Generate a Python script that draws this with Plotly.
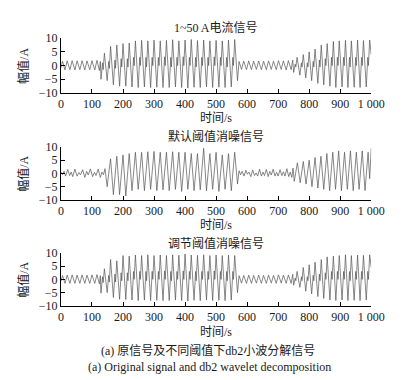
import plotly.graph_objects as go

# ---------------- data ----------------
x_tickvals = [0, 100, 200, 300, 400, 500, 600, 700, 800, 900, 1000]
x_ticktext = ["0", "100", "200", "300", "400", "500", "600", "700", "800", "900", "1 000"]
y_tickvals = [-10, -5, 0, 5, 10]

titles = ["1~50 A电流信号", "默认阈值消噪信号", "调节阈值消噪信号"]
x_title = "时间/s"
y_title = "幅值/A"
caption_cn = "(a) 原信号及不同阈值下db2小波分解信号"
caption_en = "(a) Original signal and db2 wavelet decomposition"

# original signal (time s, amplitude A)
orig_pts = [
    (0, -0.8), (5, 1.6), (13, -1.6), (20, 1.7), (29, -1.5), (36, 1.8), (45, -1.6), (52, 1.7),
    (61, -1.5), (68, 1.8), (77, -1.6), (84, 1.7), (93, -1.5), (100, 1.8), (109, -1.6), (116, 1.9),
    (124, -1.8), (127, 1.5),
    (129, -5.0), (134, 1.0), (136, -1.5), (140, 4.5),
    (149, -5.5), (154, 1.5), (156, -1.0), (160, 7.0),
    (169, -7.0), (174, 2.0), (176, -1.0), (180, 7.5),
    (189, -7.5), (194, 2.5), (196, -0.5), (200, 8.0),
    (209, -7.5), (214, 2.5), (216, -0.5), (220, 8.2),
    (229, -7.8), (234, 3.0), (236, 0.0), (240, 9.0),
    (249, -8.0), (254, 3.0), (256, 0.0), (260, 9.2),
    (269, -7.8), (274, 3.0), (276, -0.5), (280, 9.0),
    (289, -8.0), (294, 3.0), (296, 0.0), (300, 9.3),
    (309, -7.9), (314, 3.0), (316, 0.0), (320, 9.0),
    (329, -8.0), (334, 3.2), (336, 0.0), (340, 9.2),
    (349, -8.0), (354, 3.0), (356, -0.5), (360, 9.4),
    (369, -7.8), (374, 3.0), (376, 0.0), (380, 9.0),
    (389, -8.0), (394, 3.2), (396, 0.0), (400, 9.3),
    (409, -8.2), (414, 3.0), (416, 0.0), (420, 9.5),
    (429, -7.9), (434, 3.0), (436, -0.5), (440, 9.1),
    (449, -8.0), (454, 3.0), (456, 0.0), (460, 9.3),
    (469, -7.8), (474, 3.0), (476, 0.0), (480, 9.0),
    (489, -8.0), (494, 3.2), (496, 0.0), (500, 9.2),
    (509, -7.9), (514, 3.0), (516, 0.0), (520, 9.0),
    (529, -8.0), (534, 3.0), (536, -0.5), (540, 9.3),
    (549, -7.8), (554, 3.0), (556, 0.0), (560, 9.5),
    (569, -5.5),
    (574, 1.5), (582, -1.4), (589, 1.6), (598, -1.5), (605, 1.7), (614, -1.5), (621, 1.6),
    (630, -1.4), (637, 1.7), (646, -1.5), (653, 1.6), (662, -1.5), (669, 1.7), (678, -1.4),
    (685, 1.6), (694, -1.5), (701, 1.8), (710, -1.4), (717, 1.7), (726, -1.6), (733, 1.8),
    (742, -1.5), (747, 2.0),
    (750, -2.5), (755, 0.5), (757, -0.5), (761, 3.0),
    (770, -3.5), (775, 1.0), (777, -0.5), (781, 4.0),
    (789, -4.5), (794, 1.0), (796, -0.5), (800, 5.0),
    (808, -5.5), (813, 1.5), (815, -0.5), (819, 6.0),
    (828, -6.5), (833, 2.0), (835, -0.5), (839, 7.5),
    (847, -7.0), (852, 2.5), (854, 0.0), (858, 8.0),
    (867, -7.5), (872, 3.0), (874, 0.0), (878, 8.8),
    (886, -8.0), (891, 3.0), (893, 0.0), (897, 9.0),
    (906, -7.8), (911, 3.0), (913, 0.0), (917, 9.2),
    (925, -8.0), (930, 3.0), (932, -0.5), (936, 9.0),
    (945, -7.9), (950, 3.0), (952, 0.0), (956, 9.3),
    (964, -8.0), (969, 3.0), (971, 0.0), (975, 9.1),
    (984, -7.8), (989, 3.0), (991, 0.0), (995, 9.3),
    (1000, 4.0),
]

# default-threshold denoised signal
default_pts = [
    (0, 0.5), (5, -0.5), (10, 0.8), (15, -1.0), (22, 1.5), (28, -0.8), (33, 0.5), (38, -1.2),
    (45, 1.6), (52, -1.0), (58, 0.3), (63, -0.5), (70, 1.4), (77, -1.5), (83, 0.8), (88, -0.6),
    (95, 1.7), (102, -1.2), (108, 0.4), (113, -0.8), (120, 1.6), (127, -1.5), (132, 0.5),
    (137, -0.5), (142, 1.8), (146, -2.0),
    (149, -5.0), (155, 1.0), (160, 5.5),
    (169, -8.0), (175, 1.5), (180, 6.5),
    (189, -8.0), (195, 2.0), (200, 7.0),
    (209, -8.5), (215, 2.0), (220, 7.5),
    (229, -6.5), (235, 2.5), (240, 8.0),
    (249, -6.0), (255, 2.5), (260, 8.0),
    (269, -6.5), (275, 2.5), (280, 8.2),
    (289, -6.0), (295, 2.5), (300, 8.3),
    (309, -6.5), (315, 2.5), (320, 8.0),
    (329, -6.2), (335, 2.5), (340, 8.0),
    (349, -6.5), (355, 2.5), (360, 8.2),
    (369, -6.0), (375, 2.5), (380, 8.0),
    (389, -6.8), (395, 2.5), (400, 8.0),
    (409, -6.0), (415, 2.5), (420, 7.5),
    (429, -6.5), (435, 2.5), (440, 7.5),
    (449, -6.2), (455, 2.5), (460, 9.5),
    (469, -6.5), (475, 2.5), (480, 7.5),
    (489, -6.0), (495, 2.5), (500, 8.0),
    (509, -6.8), (515, 2.5), (520, 7.0),
    (529, -6.0), (535, 2.5), (540, 7.5),
    (549, -6.5), (555, 2.5), (560, 8.0),
    (569, -4.0),
    (574, 1.0), (579, -0.5), (584, 0.8), (590, -1.0), (596, 1.2), (601, -0.3), (606, 0.5),
    (612, -1.2), (618, 1.3), (624, -0.8), (629, 0.2), (634, -1.0), (640, 1.6), (646, -1.0),
    (651, 0.5), (656, -0.8), (662, 1.5), (668, -1.2), (673, 0.8), (678, -0.6), (684, 1.6),
    (690, -1.0), (695, 0.4), (700, -1.0), (706, 1.4), (712, -0.8), (717, 0.6), (722, -1.0),
    (728, 1.8), (734, -1.2), (739, 0.5), (744, -1.5), (748, 2.0),
    (752, -3.0), (758, 0.5), (762, 4.0),
    (771, -3.5), (777, 0.8), (781, 4.5),
    (790, -4.0), (796, 1.0), (800, 5.0),
    (809, -5.0), (815, 1.5), (819, 6.0),
    (828, -5.5), (834, 1.5), (838, 6.5),
    (847, -6.0), (853, 2.0), (857, 7.5),
    (866, -6.5), (872, 2.0), (876, 8.0),
    (885, -6.0), (891, 2.5), (895, 8.5),
    (904, -6.5), (910, 2.5), (914, 8.0),
    (923, -6.0), (929, 2.5), (933, 8.5),
    (942, -6.5), (948, 2.5), (952, 8.0),
    (961, -6.0), (967, 2.5), (971, 8.5),
    (980, -6.5), (986, 2.5), (990, 8.0),
    (995, -2.0), (1000, 9.5),
]

# adjusted-threshold denoised signal
adjusted_pts = [
    (0, -0.6), (5, 1.5), (13, -1.5), (20, 1.6), (29, -1.5), (36, 1.7), (45, -1.5), (52, 1.6),
    (61, -1.5), (68, 1.7), (77, -1.5), (84, 1.6), (93, -1.5), (100, 1.7), (109, -1.5), (116, 1.8),
    (124, -1.7), (127, 1.4),
    (129, -5.2), (134, 1.0), (136, -1.2), (140, 4.0),
    (149, -5.0), (154, 1.5), (156, -1.0), (160, 7.5),
    (169, -6.8), (174, 2.0), (176, -1.0), (180, 7.0),
    (189, -7.5), (194, 2.5), (196, -0.5), (200, 9.0),
    (209, -7.6), (214, 2.5), (216, -0.5), (220, 8.8),
    (229, -7.8), (234, 3.0), (236, 0.0), (240, 9.2),
    (249, -8.0), (254, 3.0), (256, 0.0), (260, 9.0),
    (269, -7.8), (274, 3.0), (276, -0.5), (280, 9.3),
    (289, -8.0), (294, 3.0), (296, 0.0), (300, 9.0),
    (309, -7.9), (314, 3.0), (316, 0.0), (320, 9.2),
    (329, -8.0), (334, 3.2), (336, 0.0), (340, 9.0),
    (349, -8.0), (354, 3.0), (356, -0.5), (360, 9.3),
    (369, -7.8), (374, 3.0), (376, 0.0), (380, 9.1),
    (389, -8.0), (394, 3.2), (396, 0.0), (400, 9.6),
    (409, -8.2), (414, 3.0), (416, 0.0), (420, 9.2),
    (429, -7.9), (434, 3.0), (436, -0.5), (440, 9.1),
    (449, -8.0), (454, 3.0), (456, 0.0), (460, 9.3),
    (469, -7.8), (474, 3.0), (476, 0.0), (480, 9.0),
    (489, -8.0), (494, 3.2), (496, 0.0), (500, 9.2),
    (509, -7.9), (514, 3.0), (516, 0.0), (520, 9.0),
    (529, -8.0), (534, 3.0), (536, -0.5), (540, 9.2),
    (549, -7.8), (554, 3.0), (556, 0.0), (560, 9.0),
    (569, -5.0),
    (574, 1.4), (582, -1.4), (589, 1.5), (598, -1.5), (605, 1.6), (614, -1.5), (621, 1.5),
    (630, -1.4), (637, 1.6), (646, -1.5), (653, 1.5), (662, -1.5), (669, 1.6), (678, -1.4),
    (685, 1.5), (694, -1.5), (701, 1.7), (710, -1.4), (717, 1.6), (726, -1.5), (733, 1.7),
    (742, -1.5), (747, 1.9),
    (750, -2.2), (755, 0.5), (757, -0.5), (761, 3.0),
    (770, -3.0), (775, 1.0), (777, -0.5), (781, 4.5),
    (789, -4.5), (794, 1.0), (796, -0.5), (800, 5.5),
    (808, -5.5), (813, 1.5), (815, -0.5), (819, 6.5),
    (828, -6.5), (833, 2.0), (835, -0.5), (839, 7.5),
    (847, -7.2), (852, 2.5), (854, 0.0), (858, 8.5),
    (867, -7.8), (872, 3.0), (874, 0.0), (878, 8.8),
    (886, -8.0), (891, 3.0), (893, 0.0), (897, 9.0),
    (906, -7.8), (911, 3.0), (913, 0.0), (917, 9.3),
    (925, -8.0), (930, 3.0), (932, -0.5), (936, 9.0),
    (945, -7.9), (950, 3.0), (952, 0.0), (956, 9.2),
    (964, -8.0), (969, 3.0), (971, 0.0), (975, 9.1),
    (984, -7.8), (989, 3.0), (991, 0.0), (995, 9.3),
    (1000, 4.5),
]

series = [orig_pts, default_pts, adjusted_pts]

# ---------------- layout geometry ----------------
W, H = 406, 380
x_dom = [52 / W, 375 / W]
plot_px = [(24, 81), (137, 192), (247, 302)]  # top, bottom of plot areas in px
title_px = [13, 126, 237]
xtitle_px = [107, 218, 329]

FONT = "Liberation Serif, Noto Sans CJK SC, serif"
TXT = "#1a1a1a"

fig = go.Figure()
annotations = []
layout = dict(
    width=W, height=H,
    margin=dict(l=0, r=0, t=0, b=0),
    paper_bgcolor="white", plot_bgcolor="white",
    showlegend=False,
    font=dict(family=FONT, size=12, color=TXT),
)

for i, pts in enumerate(series):
    n = "" if i == 0 else str(i + 1)
    tt = [p[0] for p in pts]
    vv = [p[1] for p in pts]
    fig.add_trace(go.Scatter(
        x=tt, y=vv, mode="lines",
        line=dict(color="#555555", width=0.7),
        xaxis="x" + n, yaxis="y" + n, hoverinfo="skip",
    ))
    top, bot = plot_px[i]
    layout["xaxis" + n] = dict(
        domain=x_dom, anchor="y" + n, range=[0, 1000],
        tickmode="array", tickvals=x_tickvals, ticktext=x_ticktext,
        ticks="inside", ticklen=4, tickcolor="black", tickwidth=1,
        showline=True, linecolor="black", linewidth=1, mirror=False,
        showgrid=False, zeroline=False,
        tickfont=dict(family=FONT, size=12, color=TXT),
    )
    layout["yaxis" + n] = dict(
        domain=[1 - bot / H, 1 - top / H], anchor="x" + n, range=[-10, 10],
        tickmode="array", tickvals=y_tickvals,
        ticks="inside", ticklen=4, tickcolor="black", tickwidth=1,
        showline=True, linecolor="black", linewidth=1, mirror=False,
        showgrid=False, zeroline=False,
        tickfont=dict(family=FONT, size=12, color=TXT),
    )
    annotations.append(dict(
        text=titles[i], x=213.5 / W, y=1 - title_px[i] / H, xref="paper", yref="paper",
        showarrow=False, xanchor="center", yanchor="middle",
        font=dict(family=FONT, size=12, color=TXT),
    ))
    annotations.append(dict(
        text=x_title, x=213.5 / W, y=1 - xtitle_px[i] / H, xref="paper", yref="paper",
        showarrow=False, xanchor="center", yanchor="middle",
        font=dict(family=FONT, size=12, color=TXT),
    ))
    annotations.append(dict(
        text=y_title, x=3 / W, y=1 - ((top + bot) / 2) / H, xref="paper", yref="paper",
        showarrow=False, xanchor="left", yanchor="middle", textangle=-90,
        font=dict(family=FONT, size=12, color=TXT),
    ))

annotations.append(dict(
    text=caption_cn, x=205 / W, y=1 - 348 / H, xref="paper", yref="paper",
    showarrow=False, xanchor="center", yanchor="middle",
    font=dict(family=FONT, size=12, color=TXT),
))
annotations.append(dict(
    text=caption_en, x=207 / W, y=1 - 365 / H, xref="paper", yref="paper",
    showarrow=False, xanchor="center", yanchor="middle",
    font=dict(family=FONT, size=12, color=TXT),
))

layout["annotations"] = annotations
fig.update_layout(**layout)
fig.write_html("out.html")
